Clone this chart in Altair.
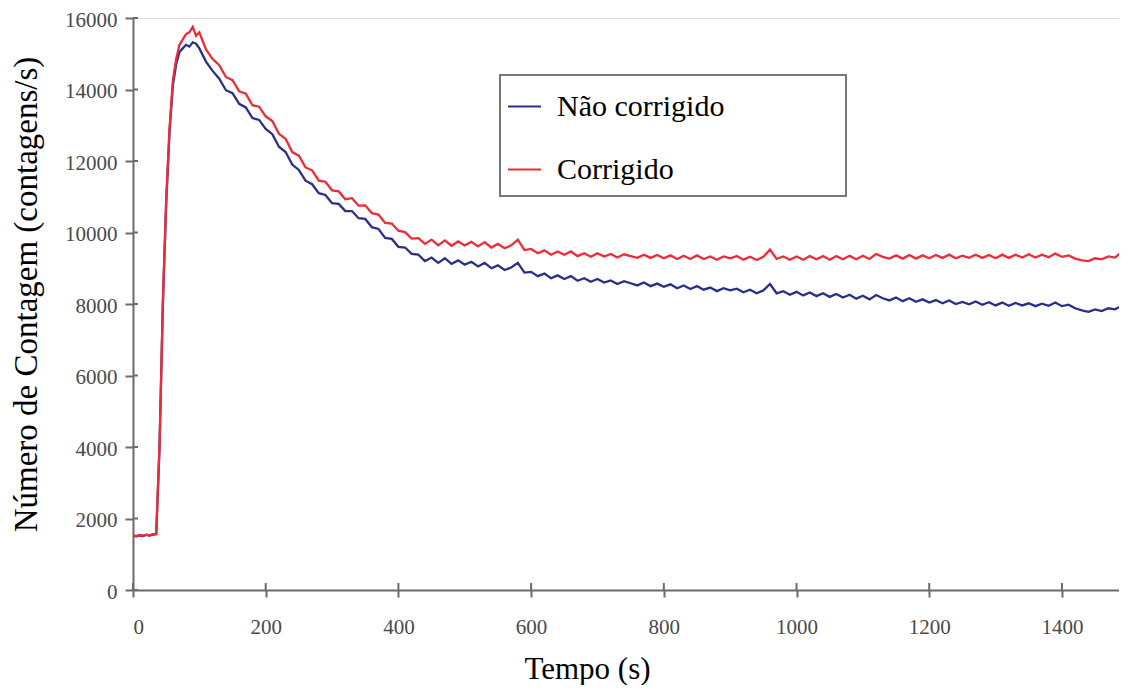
import altair as alt
import pandas as pd

# ---- data ----
t_early = list(range(0, 101, 5))
t_late = list(range(110, 1501, 10))
times = t_early + t_late

nao_early = [1520, 1500, 1530, 1510, 1540, 1520, 1550, 1560, 4000, 8000, 10800,
             12800, 14100, 14700, 15050, 15150, 15250, 15200, 15320, 15280, 15150]
corr_early = [1530, 1510, 1540, 1520, 1550, 1530, 1560, 1570, 4050, 8050, 10900,
              12900, 14250, 14850, 15250, 15400, 15550, 15600, 15750, 15500, 15600]

nao_late = [14780, 14520, 14300, 13980, 13900, 13600, 13500, 13200, 13150, 12900,
            12750, 12400, 12250, 11900, 11750, 11450, 11350, 11100, 11050, 10820,
            10800, 10600, 10600, 10400, 10380, 10150, 10100, 9850, 9820, 9600,
            9580, 9400, 9380, 9200, 9300, 9150, 9280, 9120, 9220, 9100,
            9180, 9050, 9150, 9000, 9080, 8950, 9020, 9150, 8880, 8900,
            8780, 8850, 8720, 8800, 8700, 8780, 8650, 8720, 8620, 8700,
            8600, 8660, 8560, 8640, 8580, 8520, 8600, 8500, 8570, 8480,
            8550, 8440, 8520, 8420, 8500, 8400, 8460, 8360, 8440, 8380,
            8430, 8330, 8400, 8300, 8380, 8560, 8300, 8360, 8260, 8340,
            8240, 8320, 8220, 8300, 8200, 8280, 8180, 8260, 8150, 8230,
            8130, 8250, 8160, 8100, 8180, 8080, 8160, 8060, 8130, 8040,
            8110, 8020, 8100, 8000, 8060, 7990, 8070, 7980, 8050, 7960,
            8040, 7950, 8030, 7960, 8020, 7940, 8010, 7950, 8040, 7940,
            7980, 7880, 7820, 7780, 7850, 7800, 7880, 7850, 7950, 7880]

corr_late = [15120, 14850, 14680, 14350, 14260, 13950, 13880, 13560, 13520, 13250,
             13120, 12760, 12620, 12250, 12150, 11820, 11740, 11450, 11420, 11180,
             11150, 10930, 10960, 10750, 10760, 10540, 10500, 10270, 10250, 10050,
             10010, 9830, 9840, 9680, 9800, 9640, 9780, 9630, 9750, 9640,
             9740, 9610, 9730, 9580, 9680, 9560, 9640, 9800, 9510, 9540,
             9420, 9500, 9380, 9470, 9380, 9470, 9340, 9420, 9320, 9420,
             9330, 9400, 9300, 9390, 9340, 9290, 9380, 9290, 9370, 9280,
             9360, 9260, 9350, 9260, 9360, 9260, 9330, 9240, 9330, 9280,
             9340, 9240, 9320, 9230, 9320, 9520, 9260, 9330, 9240, 9330,
             9240, 9340, 9250, 9340, 9240, 9340, 9250, 9350, 9250, 9350,
             9260, 9400, 9320, 9270, 9360, 9270, 9370, 9270, 9360, 9280,
             9370, 9290, 9380, 9280, 9350, 9290, 9380, 9290, 9370, 9280,
             9380, 9290, 9380, 9300, 9390, 9300, 9380, 9310, 9410, 9320,
             9360, 9270, 9220, 9200, 9280, 9250, 9330, 9300, 9450, 9350]

nao = nao_early + nao_late
corr = corr_early + corr_late

series_names = ["Não corrigido", "Corrigido"]
series_colors = ["#2B2E8E", "#EE2B36"]

x_ticks = [0, 200, 400, 600, 800, 1000, 1200, 1400]
y_ticks = [0, 2000, 4000, 6000, 8000, 10000, 12000, 14000, 16000]

df_nao = pd.DataFrame({"t": times, "v": nao, "s": series_names[0]})
df_corr = pd.DataFrame({"t": times, "v": corr, "s": series_names[1]})

FONT = "Liberation Serif"
AX = "#6a6a6a"
LBL = "#4a4a4a"

xscale = alt.Scale(domain=[0, 1486], nice=False, zero=False)
yscale = alt.Scale(domain=[0, 16000], nice=False)
cscale = alt.Scale(domain=series_names, range=series_colors)

x_axis = alt.Axis(values=x_ticks, format="d", grid=False, tickSize=7, tickWidth=2,
                  tickColor=AX, domainColor=AX, domainWidth=2, labelFont=FONT,
                  labelFontSize=21, labelColor=LBL, labelPadding=19,
                  title="Tempo (s)", titleFont=FONT, titleFontSize=31,
                  titleFontWeight="normal", titleColor="black",
                  titleX=454, titleY=88, titleBaseline="alphabetic", titleAlign="center")
y_axis = alt.Axis(values=y_ticks, format="d", grid=False, tickSize=8, tickWidth=2,
                  tickColor=AX, domainColor=AX, domainWidth=2, labelFont=FONT,
                  labelFontSize=21, labelColor=LBL, labelPadding=8, labelOffset=2,
                  title="Número de Contagem (contagens/s)", titleFont=FONT,
                  titleFontSize=33, titleFontWeight="normal", titleColor="black",
                  titleX=-97, titleY=276, titleBaseline="alphabetic", titleAlign="center")

legend = alt.Legend(orient="none", legendX=374, legendY=71, title=None,
                    symbolType="stroke", symbolSize=1089, symbolStrokeWidth=2,
                    labelFont=FONT, labelFontSize=30, labelColor="black",
                    labelOffset=15, rowPadding=30, padding=0, labelLimit=500,
                    labelExpr="datum.label == 'Não corrigido' ? '\u00a0Não corrigido' : datum.label")

box = alt.Chart(pd.DataFrame({"a": [0]})).mark_rect(
    fill="white", stroke="#777777", strokeWidth=2
).encode(x=alt.value(367), x2=alt.value(713), y=alt.value(57), y2=alt.value(178))

line_nao = alt.Chart(df_nao).mark_line(strokeWidth=2.3, clip=True).encode(
    x=alt.X("t:Q", scale=xscale, axis=x_axis),
    y=alt.Y("v:Q", scale=yscale, axis=y_axis),
    color=alt.Color("s:N", scale=cscale, legend=legend, sort=series_names),
)
line_corr = alt.Chart(df_corr).mark_line(strokeWidth=2.3, clip=True).encode(
    x=alt.X("t:Q", scale=xscale),
    y=alt.Y("v:Q", scale=yscale),
    color=alt.Color("s:N", scale=cscale, sort=series_names),
)

ytick_in = alt.Chart(pd.DataFrame({"y": y_ticks})).mark_rule(
    color=AX, strokeWidth=2
).encode(y=alt.Y("y:Q", scale=yscale), x=alt.value(0), x2=alt.value(5))
xtick_in = alt.Chart(pd.DataFrame({"x": x_ticks})).mark_rule(
    color=AX, strokeWidth=2
).encode(x=alt.X("x:Q", scale=xscale), y=alt.value(565), y2=alt.value(572))

chart = alt.layer(ytick_in, xtick_in, box, line_nao, line_corr).properties(
    width=986, height=572,
    autosize=alt.AutoSizeParams(type="none"),
    padding={"left": 125, "top": 10, "right": 0, "bottom": 95},
).configure_view(stroke="#888888", strokeWidth=2).configure(background="white")

chart.save("out.html", embed_options={"renderer": "svg", "actions": False})
